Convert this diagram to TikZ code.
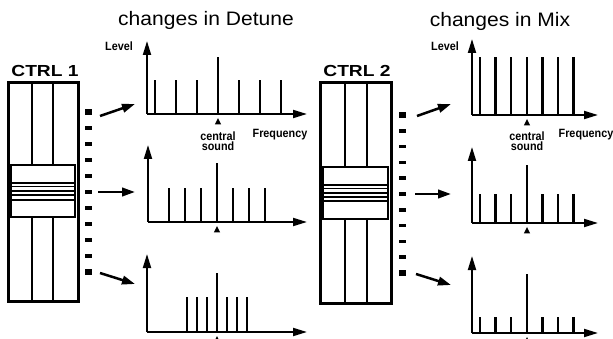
\documentclass[tikz,border=0pt]{standalone}
\usepackage{fontspec}
\setmainfont{Liberation Sans}
\usetikzlibrary{arrows.meta}
\newcommand\specchart[7]{%
  \draw[axisln] (#1,#2) -- (#1,#3);
  \draw[axisln] (#1,#2) -- (#4,#2);
  \foreach \bx/\bt in {#7} \draw[barln] (\bx,#2) -- (\bx,\bt);
  \fill (#5,#2+4) -- (#5-3.2,#2+10.5) -- (#5+3.2,#2+10.5) -- cycle;
  \draw[barln] (#5,#2) -- (#5,#6);
}
\begin{document}
\begin{tikzpicture}[x=1pt,y=-1pt,
  axisln/.style={line width=1.9pt,-{Triangle[length=14pt,width=8pt]}},
  barln/.style={line width=2.3pt},
  conn/.style={line width=2.5pt,-{Triangle[length=13pt,width=8.5pt]}},
  frame/.style={line width=3pt},
  thinln/.style={line width=1.5pt},
  tickmk/.style={fill=black,inner sep=0pt,minimum width=7pt,minimum height=3.5pt},
  bigtick/.style={fill=black,inner sep=0pt,minimum width=7pt,minimum height=6pt},
  title/.style={font=\fontsize{19.5}{20}\selectfont,xscale=1.08,inner sep=0pt},
  ctrl/.style={font=\bfseries\fontsize{16}{16}\selectfont,xscale=1.2,inner sep=0pt},
  small/.style={font=\bfseries\fontsize{12}{10.5}\selectfont,xscale=0.9,inner sep=0pt},
]
\useasboundingbox (0,0) rectangle (613,339);

% titles
\node[title] (t1) at (206,20) {changes in Detune};
\node[title] (t2) at (500,21) {changes in Mix};
\node[ctrl] (c1) at (45,71) {CTRL 1};
\node[ctrl] (c2) at (357,71) {CTRL 2};

% ---- slider 1
\draw[frame] (8,83) rectangle (78,301);
\draw[thinln] (32,83) -- (32,165) (53,83) -- (53,165);
\draw[thinln] (32,217) -- (32,301) (53,217) -- (53,301);
\draw[thinln] (11,165) rectangle (75,217);
\foreach \y in {183,186.5,191,195,200} \draw[thinln] (11,\y) -- (75,\y);

% ---- slider 2
\draw[frame] (320,83) rectangle (391,303);
\draw[thinln] (345,83) -- (345,167) (367,83) -- (367,167);
\draw[thinln] (345,219) -- (345,303) (367,219) -- (367,303);
\draw[thinln] (323,167) rectangle (388,219);
\foreach \y in {185,188.5,193,197,201} \draw[thinln] (323,\y) -- (388,\y);

% ticks
\foreach \k in {1,...,9} \node[tickmk] (ta\k) at (88,112+16*\k) {};
\node[bigtick] (ta0) at (88,112) {};
\node[bigtick] (ta10) at (88,272) {};
\foreach \k in {1,...,9} \node[tickmk] (tb\k) at (402,115+15.8*\k) {};
\node[bigtick] (tb0) at (402,115) {};
\node[bigtick] (tb10) at (402,273) {};

% connectors
\coordinate (a1s) at (100,116); \coordinate (a1e) at (135,104);
\coordinate (a2s) at (98,192);  \coordinate (a2e) at (135,192);
\coordinate (a3s) at (100,273); \coordinate (a3e) at (135,284);
\coordinate (b1s) at (417,116); \coordinate (b1e) at (451,104);
\coordinate (b2s) at (415,194); \coordinate (b2e) at (451,194);
\coordinate (b3s) at (416,274); \coordinate (b3e) at (451,285);
\draw[conn] (a1s) -- (a1e);
\draw[conn] (a2s) -- (a2e);
\draw[conn] (a3s) -- (a3e);
\draw[conn] (b1s) -- (b1e);
\draw[conn] (b2s) -- (b2e);
\draw[conn] (b3s) -- (b3e);

% ---- Detune charts
\specchart{147}{114}{41}{307}{218}{57}{155/80,176/80,197/80,239/80,260/80,281/80}
\specchart{148}{222}{145}{307}{217}{163}{169/188,185/188,201/188,233/188,249/188,265/188}
\specchart{147}{332}{254}{307}{217}{273}{187/297,197/297,207/297,227/297,237/297,247/297}

% ---- Mix charts
\specchart{472}{115}{39}{598}{527}{57}{480/57,495.5/57,511/57,542.5/57,558/57,573.5/57}
\specchart{472}{223}{147}{598}{527}{165}{480/194,495.5/194,511/194,542.5/194,558/194,573.5/194}
\specchart{472}{333}{256}{598}{527}{274}{480/317,495.5/317,511/317,542.5/317,558/317,573.5/317}

% labels
\node[small] (lv1) at (119,46) {Level};
\node[small] (lv2) at (445,46) {Level};
\node[small,align=center] (cs1) at (218,141) {central\\sound};
\node[small] (fq1) at (280,135) {Frequency};
\node[small,align=center] (cs2) at (527,141) {central\\sound};
\node[small] (fq2) at (586,135) {Frequency};
\end{tikzpicture}
\end{document}
